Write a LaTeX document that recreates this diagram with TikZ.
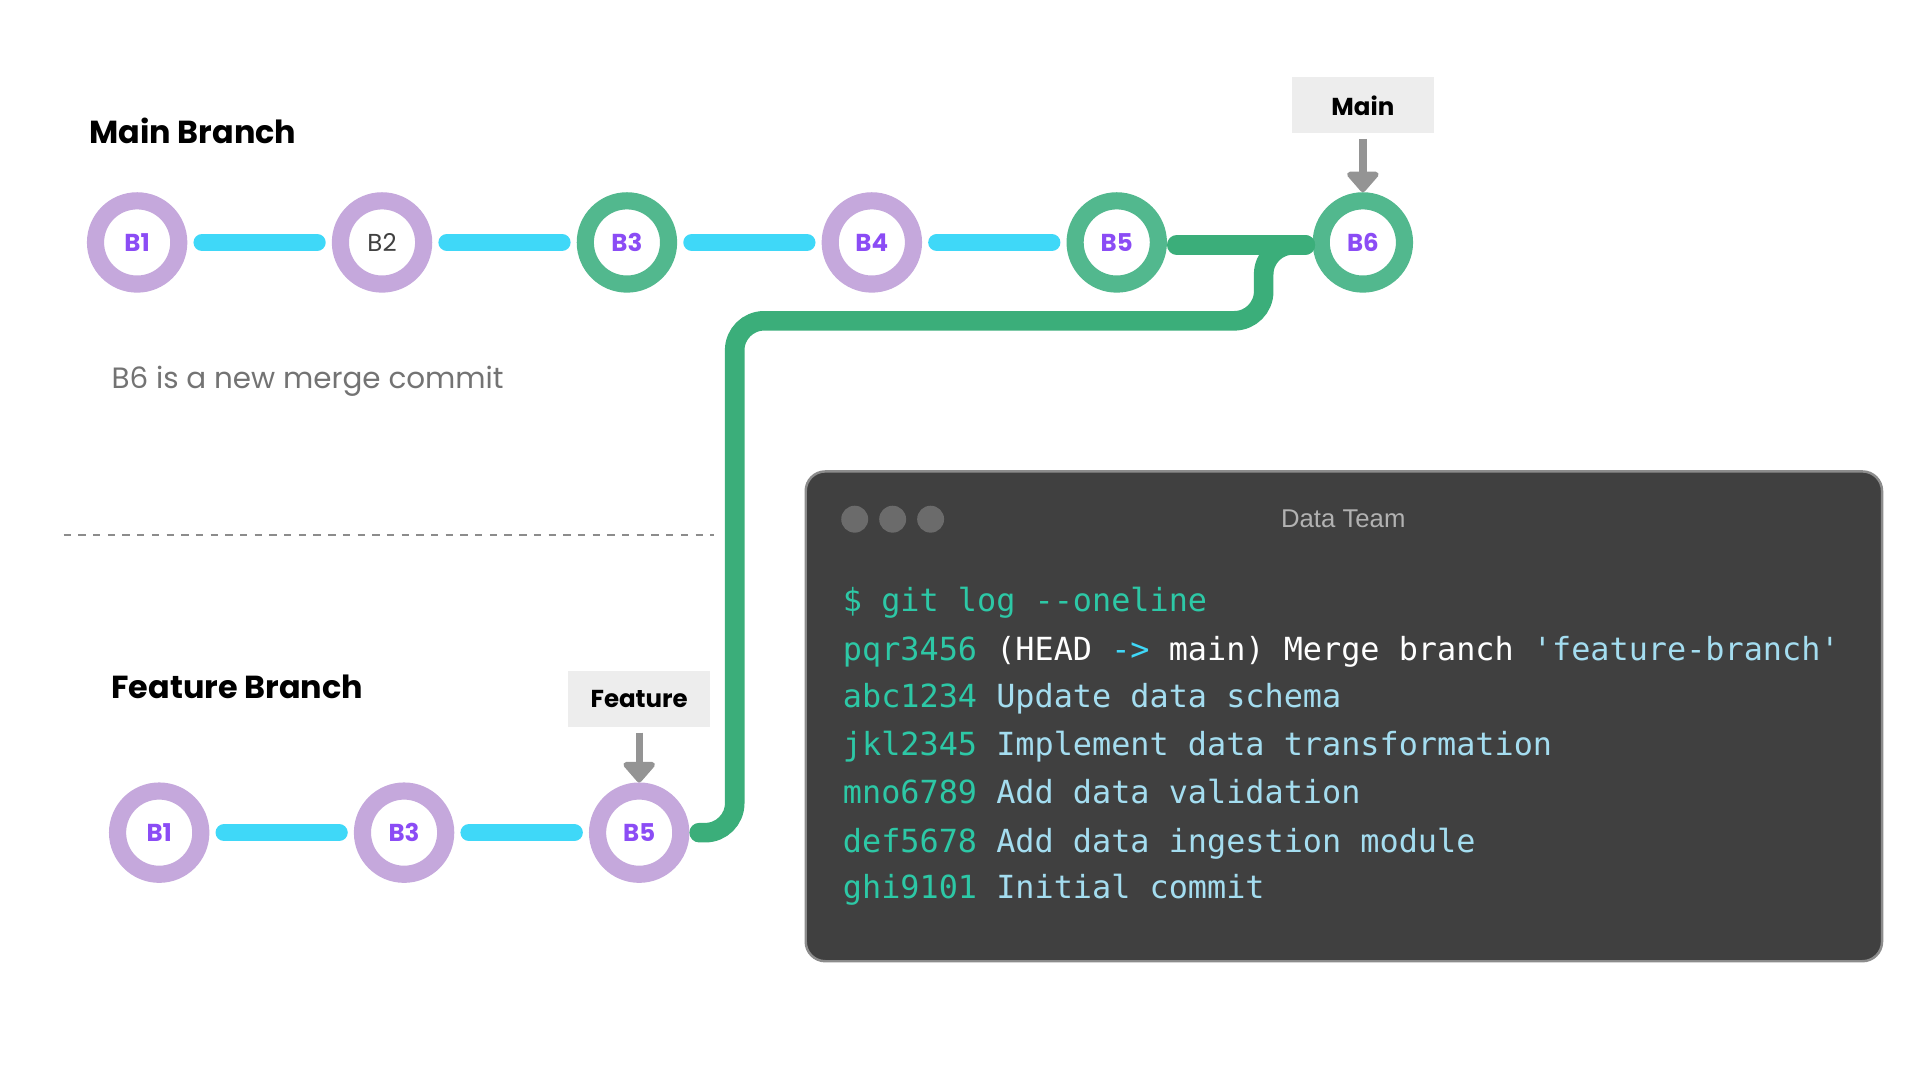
\documentclass[tikz,border=0pt]{standalone}
\usepackage{fontspec}
\setmainfont{Poppins}
\newfontfamily\monofont{DejaVu Sans Mono}
\newfontfamily\titlefont{Liberation Sans}
\usetikzlibrary{positioning, arrows.meta}
\definecolor{ringpurple}{HTML}{C5A8DC}
\definecolor{ringgreen}{HTML}{52B88E}
\definecolor{linkcyan}{HTML}{3FD8F8}
\definecolor{mergegreen}{HTML}{3BAE7A}
\definecolor{labelpurple}{HTML}{8B4CF5}
\definecolor{termbg}{HTML}{404040}
\definecolor{hashteal}{HTML}{2DC8A6}
\definecolor{msgblue}{HTML}{A4DDF0}
\begin{document}
\begin{tikzpicture}[x=0.5pt, y=-0.5pt,
  commit/.style={circle, draw=ringpurple, line width=7pt, minimum size=34pt, inner sep=0pt, fill=white, text=labelpurple, font=\bfseries\fontsize{10}{10}\selectfont},
  gcommit/.style={commit, draw=ringgreen},
  link/.style={linkcyan, line width=7pt, line cap=round},
  tag/.style={fill=black!7, minimum width=58pt, minimum height=23pt, font=\bfseries\fontsize{10}{10}\selectfont},
  pointer/.style={black!42, line width=3pt, -{Triangle[length=9pt,width=15pt,round]}},
  heading/.style={anchor=west, font=\bfseries\fontsize{13}{14}\selectfont},
  term/.style={anchor=base west, font=\monofont\fontsize{13}{13}\selectfont, inner sep=0pt}]
  \useasboundingbox (0,0) rectangle (1568,882);
  % Main branch
  \node[heading] (mainhead) at (66,107) {Main Branch};
  \node[commit] (m1) at (112,198) {B1};
  \node[commit, text=black!75, font=\fontsize{10}{10}\selectfont] (m2) at (312,198) {B2};
  \node[gcommit] (m3) at (512,198) {B3};
  \node[commit] (m4) at (712,198) {B4};
  \node[gcommit] (m5) at (912,198) {B5};
  \node[gcommit] (m6) at (1113,198) {B6};
  \foreach \a/\b in {m1/m2, m2/m3, m3/m4, m4/m5}
    \draw[link] ([xshift=6]\a.east) -- ([xshift=-6]\b.west);
  \node[anchor=west, text=black!55, font=\fontsize{12}{12}\selectfont] (note) at (84,311) {B6 is a new merge commit};
  \node[tag] (maintag) at (1113,86) {Main};
  \draw[pointer] (maintag.south) ++(0,4) -- (m6.north);
  % divider
  \coordinate (dl) at (52,437);
  \coordinate (dr) at (583,437);
  \draw[black!45, dashed, line width=0.5pt] (dl) -- (dr);
  % Feature branch
  \node[heading] (feathead) at (84,561) {Feature Branch};
  \node[commit] (f1) at (130,680) {B1};
  \node[commit] (f3) at (330,680) {B3};
  \node[commit] (f5) at (522,680) {B5};
  \draw[link] ([xshift=6]f1.east) -- ([xshift=-6]f3.west);
  \draw[link] ([xshift=6]f3.east) -- ([xshift=-6]f5.west);
  \node[tag] (feattag) at (522,571) {Feature};
  \draw[pointer] (feattag.south) ++(0,4) -- (f5.north);
  % merge
  \coordinate (joint) at (1066,200);
  \draw[mergegreen, line width=8pt, line cap=round] ([xshift=4]m5.east |- joint) -- (joint);
  \draw[mergegreen, line width=8pt, line cap=round, rounded corners=12pt]
    ([xshift=4]f5.east) -- (600,680) -- (600,262) -- (1032,262) -- (1032,200) -- (joint);
  % terminal
  \node[draw=black!45, line width=1pt, fill=termbg, rounded corners=8pt, minimum width=439.5pt, minimum height=200pt, inner sep=0pt] (termwin) at (1097.5,585) {};
  \foreach \dx in {698,729,760}
    \fill[black!58] (\dx,424) circle (5.5pt);
  \node[text=black!30, font=\titlefont\fontsize{10.5}{10.5}\selectfont] (termtitle) at (1097,424) {Data Team};
  \node[term, text=hashteal] (l0) at (688,499) {\$ git log --oneline};
  \node[term] (l1) at (688,539) {\textcolor{hashteal}{pqr3456} \textcolor{white}{(HEAD} \textcolor{linkcyan}{->} \textcolor{white}{main) Merge branch} \textcolor{msgblue}{'feature-branch'}};
  \foreach \h/\m/\yy in {abc1234/Update data schema/578, jkl2345/Implement data transformation/617, mno6789/Add data validation/656, def5678/Add data ingestion module/696, ghi9101/Initial commit/734}
    \node[term] at (688,\yy) {\textcolor{hashteal}{\h} \textcolor{msgblue}{\m}};
\end{tikzpicture}
\end{document}
